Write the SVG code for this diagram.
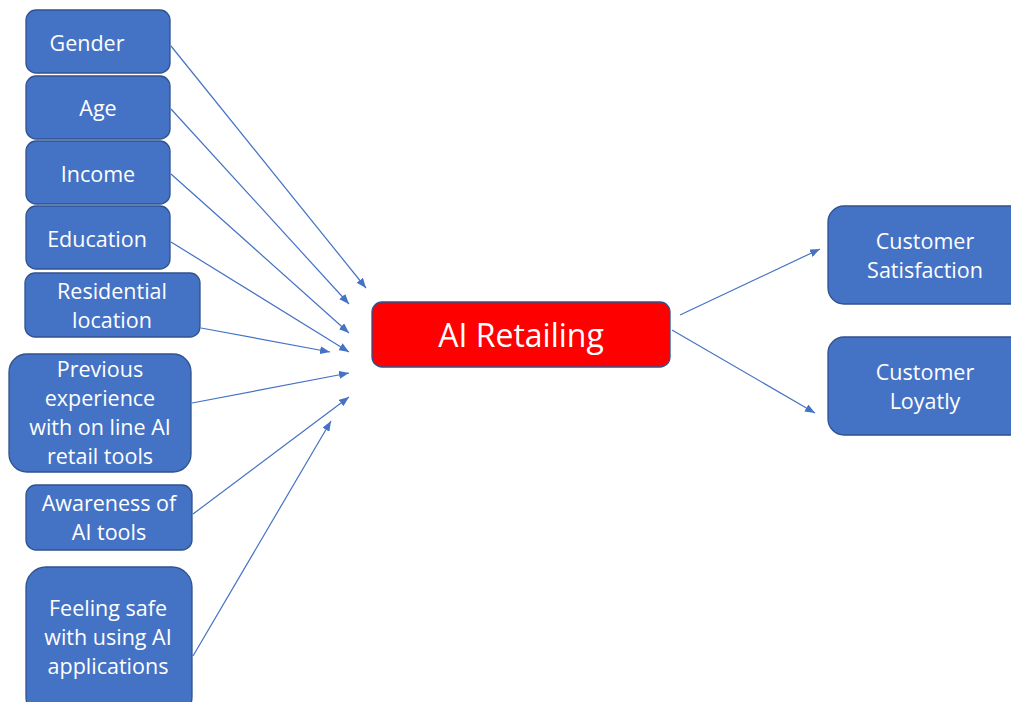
<svg xmlns="http://www.w3.org/2000/svg" width="1011" height="702" viewBox="0 0 1011 702">
  <style>
    .box { fill: #4472C4; stroke: #2F528F; stroke-width: 1.3; }
    .core { fill: #FF0000; stroke: #2F528F; stroke-width: 1.3; }
    .lbl { font-family: "Open Sans", "Liberation Sans", sans-serif; font-size: 21.5px; fill: #FFFFFF; text-anchor: middle; }
    .big { font-size: 32px; }
    .link { stroke: #4472C4; stroke-width: 1.2; fill: none; marker-end: url(#tip); }
  </style>
  <defs>
    <marker id="tip" markerWidth="11" markerHeight="8" refX="10" refY="4" orient="auto" markerUnits="userSpaceOnUse">
      <path d="M0,0 L10,4 L0,8 Z" fill="#4472C4"/>
    </marker>
  </defs>
  <rect width="1011" height="702" fill="#FFFFFF"/>

  <!-- connectors -->
  <g id="connectors">
    <line class="link" x1="171" y1="46" x2="366" y2="288"/>
    <line class="link" x1="171" y1="109" x2="349" y2="304"/>
    <line class="link" x1="171" y1="174" x2="349" y2="333"/>
    <line class="link" x1="171" y1="242" x2="349" y2="352"/>
    <line class="link" x1="201" y1="328" x2="330" y2="352"/>
    <line class="link" x1="192" y1="403" x2="349" y2="373"/>
    <line class="link" x1="193" y1="514" x2="349" y2="397"/>
    <line class="link" x1="193" y1="656" x2="331" y2="421"/>
    <line class="link" x1="680" y1="315" x2="820" y2="249"/>
    <line class="link" x1="672" y1="330" x2="815" y2="413"/>
  </g>

  <!-- input factors -->
  <g id="gender">
    <rect class="box" x="26" y="10" width="144" height="63" rx="10"/>
    <text class="lbl" x="87" y="51">Gender</text>
  </g>
  <g id="age">
    <rect class="box" x="26" y="76" width="144" height="63" rx="10"/>
    <text class="lbl" x="98" y="116">Age</text>
  </g>
  <g id="income">
    <rect class="box" x="26" y="141" width="144" height="63" rx="10"/>
    <text class="lbl" x="98" y="182">Income</text>
  </g>
  <g id="education">
    <rect class="box" x="26" y="206" width="144" height="63" rx="10"/>
    <text class="lbl" x="97" y="247">Education</text>
  </g>
  <g id="residential">
    <rect class="box" x="25" y="273" width="175" height="64" rx="10"/>
    <text class="lbl" x="112" y="299">Residential</text>
    <text class="lbl" x="112" y="328">location</text>
  </g>
  <g id="experience">
    <rect class="box" x="9" y="354" width="182" height="118" rx="18"/>
    <text class="lbl" x="100" y="377">Previous</text>
    <text class="lbl" x="100" y="406">experience</text>
    <text class="lbl" x="100" y="435">with on line AI</text>
    <text class="lbl" x="100" y="464">retail tools</text>
  </g>
  <g id="awareness">
    <rect class="box" x="26" y="485" width="166" height="65" rx="10"/>
    <text class="lbl" x="109" y="511">Awareness of</text>
    <text class="lbl" x="109" y="540">AI tools</text>
  </g>
  <g id="safety">
    <rect class="box" x="26" y="567" width="166" height="150" rx="20"/>
    <text class="lbl" x="108" y="616">Feeling safe</text>
    <text class="lbl" x="108" y="645">with using AI</text>
    <text class="lbl" x="108" y="674">applications</text>
  </g>

  <!-- central construct -->
  <g id="ai-retailing">
    <rect class="core" x="372" y="302" width="298" height="65" rx="10"/>
    <text class="lbl big" x="521" y="347">AI Retailing</text>
  </g>

  <!-- outcomes -->
  <g id="satisfaction">
    <rect class="box" x="828" y="206" width="200" height="98" rx="16"/>
    <text class="lbl" x="925" y="249">Customer</text>
    <text class="lbl" x="925" y="278">Satisfaction</text>
  </g>
  <g id="loyalty">
    <rect class="box" x="828" y="337" width="200" height="98" rx="16"/>
    <text class="lbl" x="925" y="380">Customer</text>
    <text class="lbl" x="925" y="409">Loyatly</text>
  </g>
</svg>
